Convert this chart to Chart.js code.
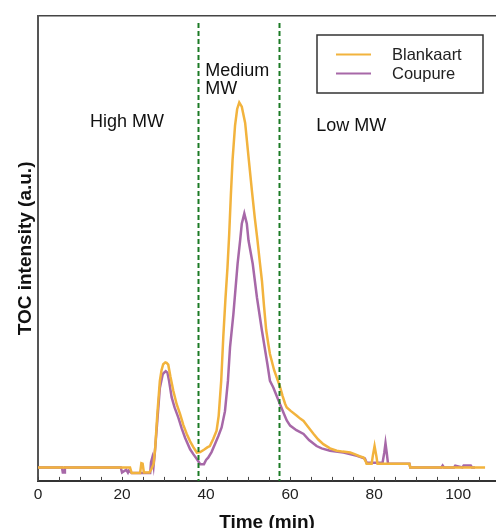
<!DOCTYPE html>
<html>
<head>
<meta charset="utf-8">
<script src="https://cdn.jsdelivr.net/npm/chart.js@4.4.1/dist/chart.umd.min.js"></script>
<style>
html,body{margin:0;padding:0;background:#fff;overflow:hidden;}
#wrap{width:496px;height:528px;position:relative;}
</style>
</head>
<body>
<div id="wrap"><canvas id="c" width="496" height="528"></canvas></div>
<script>
// ---- data ----
const seriesNames = ['Blankaart', 'Coupure'];
const blankaartTime = [0,21.9,22.3,24.3,24.6,24.9,25.2,26.5,27.0,27.5,27.9,28.4,29.0,29.4,29.8,30.3,30.6,31.0,31.5,32.2,33.0,33.8,34.6,35.4,36.2,37.0,37.8,38.6,39.5,40.3,40.9,41.7,42.5,43.0,43.6,44.1,44.6,45.1,45.5,45.9,46.3,46.9,47.4,47.9,48.5,49.3,50.1,50.9,51.6,52.2,52.8,53.3,53.8,54.3,54.8,55.2,56.2,57.1,57.6,58.2,58.8,59.2,60.2,61.6,62.4,63.2,64.3,65.6,66.7,67.9,69.5,71.1,72.5,74.3,75.5,76.5,77.5,78.0,78.2,79.4,79.7,80.1,80.5,80.8,88.4,88.6,106.4];
const blankaartValue = [2.9,2.9,1.7,1.7,3.8,3.7,1.8,1.8,2.6,3.6,7.2,14.4,21.5,23.8,25.1,25.5,25.4,25.0,22.5,19.4,16.5,14.4,12.0,10.1,8.5,7.2,6.1,6.2,6.7,7.2,7.5,9.0,10.8,14.0,21.5,31.0,39.0,46.0,53.0,61.5,69.0,76.5,80.0,81.4,80.5,77.0,69.7,62.5,56.5,52.0,47.0,43.0,37.5,32.5,29.5,27.3,23.8,21.5,20.2,18.3,16.6,15.8,15.0,14.0,13.4,12.9,11.6,10.1,8.9,7.9,7.0,6.5,6.3,6.1,5.7,5.3,5.0,4.2,3.7,3.7,5.5,7.5,5.5,3.7,3.7,2.9,2.9];
const coupureTime = [0,5.7,5.9,6.2,6.4,19.7,20.0,21.0,21.4,21.6,22.3,26.7,26.9,27.2,27.5,27.8,28.4,29.0,29.7,30.4,30.8,31.2,31.8,32.5,33.4,34.2,35.0,36.2,37.0,37.8,38.6,39.5,40.0,40.5,41.3,42.1,42.9,43.7,44.5,45.2,45.7,46.5,47.5,48.1,48.5,49.1,49.7,50.1,51.1,52.1,53.3,54.6,55.2,56.0,57.6,58.5,59.2,60.0,61.5,63.2,64.5,66.3,67.5,69.5,72.7,75.9,77.8,78.2,82.0,82.4,82.7,83.0,83.3,88.4,88.6,96.0,96.3,96.6,99.0,99.3,101.0,101.3,103.0,103.3,104.0];
const coupureValue = [2.9,2.9,1.8,1.8,2.9,2.9,1.8,2.4,1.8,2.2,1.7,1.7,4.0,5.0,3.2,6.0,13.0,20.0,23.0,23.6,23.3,21.5,18.0,15.8,13.6,11.3,9.3,6.8,5.7,4.7,3.6,3.6,4.5,5.0,6.2,7.9,9.6,11.5,15.0,21.5,28.7,35.9,46.7,51.7,55.3,57.5,55.3,51.7,46.7,39.5,32.3,25.1,21.5,20.1,16.5,14.5,13.0,11.9,10.9,10.1,8.8,7.5,7.0,6.5,6.1,5.4,4.8,3.9,3.9,6.0,8.1,6.0,3.7,3.7,2.9,2.9,3.3,2.9,2.9,3.3,2.9,3.3,3.3,2.9,2.9];
const xTickLabels = [0, 20, 40, 60, 80, 100];
const regionBounds = [38, 57.4];
const regionLabels = ['High MW', ['Medium', 'MW'], 'Low MW'];
const axisTitles = { x: 'Time (min)', y: 'TOC intensity (a.u.)' };
const seriesColors = ['#f2b33d', '#a768a8'];

const toXY = (ts, vs) => ts.map((t, i) => ({ x: t, y: vs[i] }));

const FONT = '"Liberation Sans", Arial, sans-serif';

const decorPlugin = {
  id: 'decor',
  afterDatasetsDraw(chart) {
    const ctx = chart.ctx;
    const xs = chart.scales.x;
    const ys = chart.scales.y;
    const area = chart.chartArea;
    ctx.save();
    // dashed region boundaries
    ctx.strokeStyle = '#1b7a24';
    ctx.lineWidth = 2;
    ctx.setLineDash([5, 3]);
    regionBounds.forEach(b => {
      const px = Math.round(xs.getPixelForValue(b)) + 0.5;
      ctx.beginPath();
      ctx.moveTo(px, ys.getPixelForValue(98.5));
      ctx.lineTo(px, area.bottom);
      ctx.stroke();
    });
    ctx.setLineDash([]);
    // region labels
    ctx.fillStyle = '#111';
    ctx.font = '18px ' + FONT;
    ctx.textBaseline = 'middle';
    ctx.textAlign = 'left';
    ctx.fillText(regionLabels[0], xs.getPixelForValue(12.4), ys.getPixelForValue(77.2));
    ctx.fillText(regionLabels[1][0], xs.getPixelForValue(39.8), ys.getPixelForValue(88.2));
    ctx.fillText(regionLabels[1][1], xs.getPixelForValue(39.8), ys.getPixelForValue(84.3));
    ctx.fillText(regionLabels[2], xs.getPixelForValue(66.2), ys.getPixelForValue(76.3));
    // inward x ticks
    ctx.strokeStyle = '#444';
    ctx.lineWidth = 1;
    for (let v = 0; v <= 105; v += 5) {
      const px = Math.round(xs.getPixelForValue(v)) + 0.5;
      ctx.beginPath();
      ctx.moveTo(px, area.bottom);
      ctx.lineTo(px, area.bottom - 4);
      ctx.stroke();
    }
    // legend box
    const lx = 317, ly = 35, lw = 166, lh = 58;
    ctx.strokeStyle = '#333';
    ctx.lineWidth = 1.5;
    ctx.strokeRect(lx, ly, lw, lh);
    chart.data.datasets.forEach((ds, i) => {
      const yy = ly + 19.5 + i * 19;
      ctx.strokeStyle = ds.borderColor;
      ctx.lineWidth = 2;
      ctx.beginPath();
      ctx.moveTo(lx + 19, yy);
      ctx.lineTo(lx + 54, yy);
      ctx.stroke();
      ctx.fillStyle = '#222';
      ctx.font = '16.5px ' + FONT;
      ctx.textBaseline = 'middle';
      ctx.fillText(ds.label, lx + 75, yy + 0.5);
    });
    ctx.restore();
  }
};

new Chart(document.getElementById('c'), {
  type: 'line',
  data: {
    datasets: [
      { label: seriesNames[0], data: toXY(blankaartTime, blankaartValue), borderColor: seriesColors[0], borderWidth: 2.5, pointRadius: 0, tension: 0, fill: false },
      { label: seriesNames[1], data: toXY(coupureTime, coupureValue), borderColor: seriesColors[1], borderWidth: 2.5, pointRadius: 0, tension: 0, fill: false }
    ]
  },
  options: {
    responsive: false,
    animation: false,
    devicePixelRatio: 1,
    layout: { padding: { top: 16, right: 0, left: 0, bottom: 0 } },
    plugins: { legend: { display: false }, tooltip: { enabled: false } },
    scales: {
      x: {
        type: 'linear', position: 'bottom', min: 0, max: 109,
        grid: { display: false, drawTicks: false },
        border: { display: true, color: '#333', width: 2 },
        ticks: {
          stepSize: 20, includeBounds: false, padding: 5,
          color: '#222', font: { family: FONT, size: 15.5 },
          callback: v => xTickLabels.includes(v) ? String(v) : ''
        },
        title: { display: true, text: axisTitles.x, color: '#111', font: { family: FONT, size: 19, weight: 'bold', lineHeight: 1 }, padding: { top: 4, bottom: -4.5 } }
      },
      xTop: {
        type: 'linear', position: 'top', min: 0, max: 109,
        grid: { display: false, drawTicks: false },
        border: { display: true, color: '#444', width: 1.5 },
        ticks: { display: false }
      },
      y: {
        min: 0, max: 100,
        grid: { display: false, drawTicks: false },
        border: { display: true, color: '#555', width: 2 },
        ticks: { display: false },
        title: { display: true, text: axisTitles.y, color: '#111', font: { family: FONT, size: 19, weight: 'bold', lineHeight: 1 }, padding: { top: 16, bottom: 3 } }
      }
    }
  },
  plugins: [decorPlugin]
});
</script>
</body>
</html>
